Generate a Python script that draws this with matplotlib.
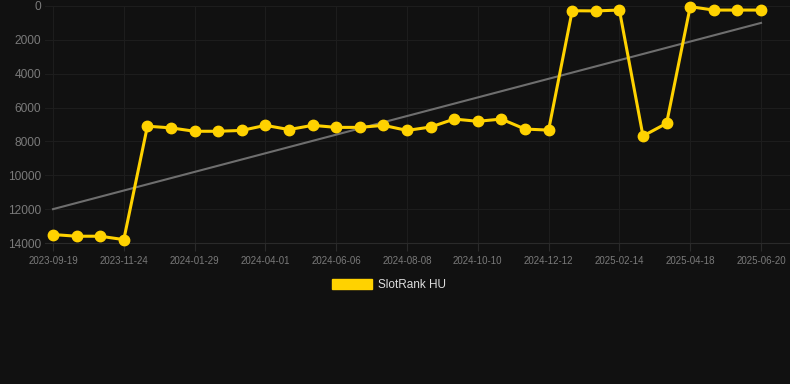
import matplotlib
matplotlib.use("Agg")
import matplotlib.pyplot as plt
from matplotlib.patches import Patch

plt.rcParams['font.family'] = ['Liberation Sans', 'DejaVu Sans']

dates = ["2023-09-19", "2023-10-11", "2023-11-02", "2023-11-24", "2023-12-16",
         "2024-01-07", "2024-01-29", "2024-02-20", "2024-03-11", "2024-04-01",
         "2024-04-23", "2024-05-15", "2024-06-06", "2024-06-27", "2024-07-18",
         "2024-08-08", "2024-08-29", "2024-09-19", "2024-10-10", "2024-10-31",
         "2024-11-21", "2024-12-12", "2025-01-02", "2025-01-23", "2025-02-14",
         "2025-03-07", "2025-03-28", "2025-04-18", "2025-05-09", "2025-05-30",
         "2025-06-20"]
ranks = [13500, 13600, 13600, 13800, 7100, 7200, 7400, 7400, 7350, 7050,
         7300, 7050, 7170, 7170, 7050, 7350, 7150, 6680, 6810, 6680,
         7270, 7330, 280, 290, 240, 7680, 6930, 40, 240, 240, 240]
trend_start = 12000
trend_end = 1000
series_name = "SlotRank HU"
yticks = [0, 2000, 4000, 6000, 8000, 10000, 12000, 14000]

bg = "#111111"
gold = "#FFD200"

fig = plt.figure(figsize=(7.9, 3.84), dpi=100, facecolor=bg)
ax = fig.add_axes([45/790, 1-243/384, 1-45/790, (243-6)/384], facecolor=bg)

x = list(range(len(dates)))
ax.plot([x[0], x[-1]], [trend_start, trend_end], color="#6e6e6e", lw=1.5, zorder=2)
ax.plot(x, ranks, color=gold, lw=2.2, marker="o", markersize=7.5, zorder=3,
        solid_joinstyle="round", clip_on=False)

ax.set_ylim(14000, 0)
ax.set_xlim(-8/23.6, 30 + 29/23.6)
ax.set_yticks(yticks)
ax.set_yticklabels([str(v) for v in yticks])
tick_idx = list(range(0, len(dates), 3))
ax.set_xticks(tick_idx)
ax.set_xticklabels([dates[i] for i in tick_idx])

ax.grid(True, color="#1d1d1d", lw=0.8, zorder=0)
for s in ax.spines.values():
    s.set_visible(False)
ax.spines["bottom"].set_visible(True)
ax.spines["bottom"].set_color("#2a2a2a")
ax.spines["bottom"].set_linewidth(0.8)
ax.tick_params(axis="y", length=0, pad=3, labelsize=8.6, labelcolor="#7a7a7a")
ax.tick_params(axis="x", length=6, width=0.8, color="#2a2a2a", pad=3, labelsize=7, labelcolor="#7a7a7a")

handle = Patch(facecolor=gold, edgecolor=gold)
fig.legend([handle], [series_name], loc="center", bbox_to_anchor=(389/790, 1-285/384),
           frameon=False, handlelength=3.4, handleheight=0.9, fontsize=8.5,
           labelcolor="#dddddd", handletextpad=0.5)

fig.savefig("out.png", dpi=100, facecolor=bg)
